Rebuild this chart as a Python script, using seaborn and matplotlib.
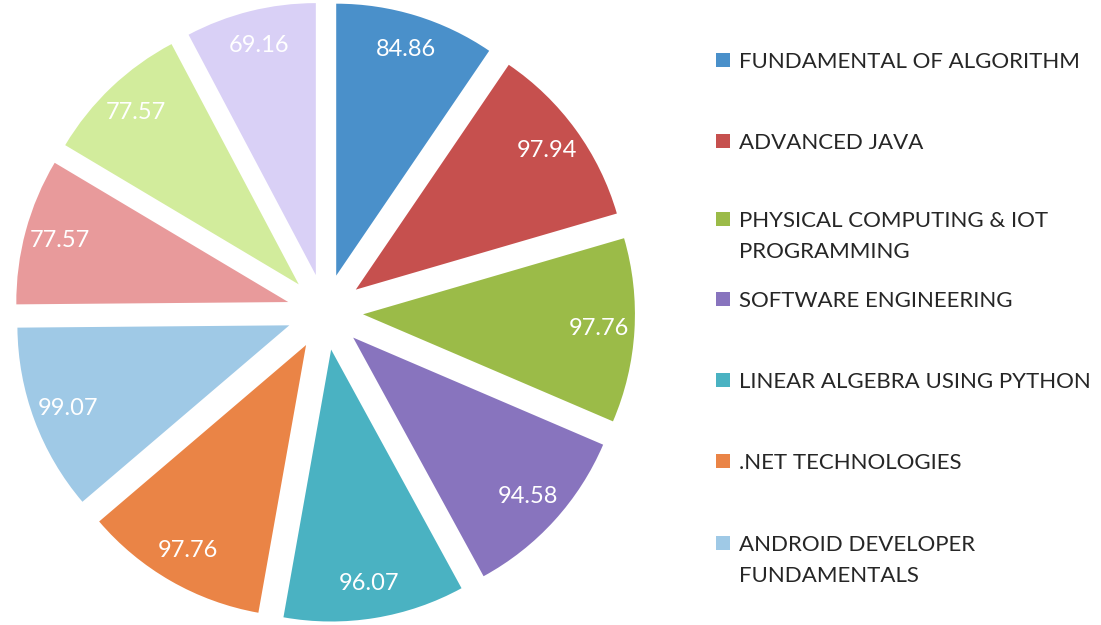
import matplotlib.pyplot as plt
import seaborn as sns
from matplotlib.patches import Rectangle

subjects = ["FUNDAMENTAL OF ALGORITHM", "ADVANCED JAVA", "PHYSICAL COMPUTING & IOT\nPROGRAMMING",
            "SOFTWARE ENGINEERING", "LINEAR ALGEBRA USING PYTHON", ".NET TECHNOLOGIES",
            "ANDROID DEVELOPER\nFUNDAMENTALS", "SUBJECT 8", "SUBJECT 9", "SUBJECT 10"]
scores = [84.86, 97.94, 97.76, 94.58, 96.07, 97.76, 99.07, 77.57, 77.57, 69.16]
colors = ["#4A90CA", "#C6504E", "#9BBB48", "#8874BE", "#4AB2C2",
          "#EA8446", "#9FC9E6", "#E89A9B", "#D2EC9C", "#D9D0F6"]

sns.set_style("white")
plt.rcParams['font.family'] = ['Lato', 'DejaVu Sans']

W, H = 1101, 625
fig = plt.figure(figsize=(W / 100, H / 100), dpi=100)
ax = fig.add_axes([15 / W, 3 / H, 620 / W, 620 / H])

total = sum(scores)
wedges, texts, autotexts = ax.pie(
    scores, colors=colors, startangle=90, counterclock=False,
    explode=[0.14] * len(scores), pctdistance=0.87,
    autopct=lambda p: f"{p * total / 100:.2f}",
    textprops={"color": "white", "fontsize": 17},
    wedgeprops={"linewidth": 0},
)
ax.set_xlim(-1.14, 1.14)
ax.set_ylim(-1.14, 1.14)
ax.set_aspect("equal")
ax.axis("off")

# legend drawn by hand: only the first seven subjects are listed, first line aligned with the swatch
legend_rows = [60, 141, 219, 299, 380, 461, 543]
for wedge, label, row in zip(wedges, subjects, legend_rows):
    fig.add_artist(Rectangle((716 / W, 1 - (row + 7) / H), 14 / W, 14 / H,
                             transform=fig.transFigure, color=wedge.get_facecolor(), lw=0))
    fig.text(739 / W, 1 - (row - 8) / H, label, ha="left", va="top", fontsize=16,
             color="#262626", linespacing=1.7)

fig.savefig("out.png", dpi=100)
